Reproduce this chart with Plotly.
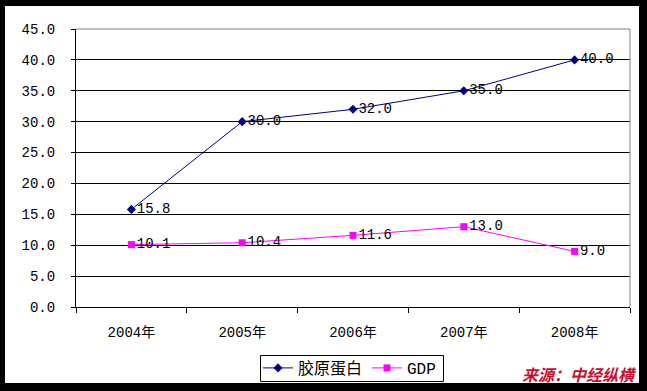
import plotly.graph_objects as go

years = ["2004年", "2005年", "2006年", "2007年", "2008年"]
collagen = [15.8, 30.0, 32.0, 35.0, 40.0]
gdp = [10.1, 10.4, 11.6, 13.0, 9.0]
ytick_vals = [0, 5, 10, 15, 20, 25, 30, 35, 40, 45]
ytick_text = ["%.1f" % v for v in ytick_vals]

FONT = "Liberation Mono, Noto Sans CJK SC"

fig = go.Figure()
fig.add_trace(go.Scatter(
    x=years, y=collagen, name="胶原蛋白", mode="lines+markers+text",
    line=dict(color="#000080", width=1),
    marker=dict(symbol="diamond", size=7, color="#000080"),
    text=["%.1f" % v for v in collagen], textposition="middle right",
    textfont=dict(family=FONT, size=14, color="black"),
))
fig.add_trace(go.Scatter(
    x=years, y=gdp, name="GDP", mode="lines+markers+text",
    line=dict(color="#FF00FF", width=1),
    marker=dict(symbol="square", size=7, color="#FF00FF"),
    text=["%.1f" % v for v in gdp], textposition="middle right",
    textfont=dict(family=FONT, size=14, color="black"),
))

L, R, T, B = 76, 17, 29, 84
W, H = 647, 391
pw, ph = W - L - R, H - T - B
def px(x):
    return (x - L) / pw
def py(y):
    return (H - B - y) / ph

fig.update_layout(
    width=W, height=H,
    margin=dict(l=L, r=R, t=T, b=B, autoexpand=False),
    paper_bgcolor="black", plot_bgcolor="white",
    showlegend=True,
    legend=dict(orientation="h", x=px(258), xanchor="left", y=py(368), yanchor="middle",
                borderwidth=0, bgcolor="rgba(0,0,0,0)",
                font=dict(family=FONT, size=16, color="black"),
                itemwidth=30, tracegroupgap=0),
    font=dict(family=FONT, color="black"),
    shapes=[
        dict(type="rect", xref="paper", yref="paper", x0=px(5), x1=px(639), y0=py(383), y1=py(6),
             fillcolor="white", line=dict(width=0), layer="below"),
        dict(type="line", xref="paper", yref="paper", x0=0, x1=1, y0=1, y1=1,
             line=dict(color="#808080", width=1), layer="above"),
        dict(type="line", xref="paper", yref="paper", x0=1, x1=1, y0=0, y1=1,
             line=dict(color="#808080", width=1), layer="above"),
        dict(type="rect", xref="paper", yref="paper", x0=px(260.5), x1=px(443.5), y0=py(381.5), y1=py(355.5),
             fillcolor="rgba(0,0,0,0)", line=dict(color="black", width=1), layer="above"),
    ],
    annotations=[
        dict(text="<b><i>来源：中经纵横</i></b>", xref="paper", yref="paper",
             x=px(639), xanchor="right", y=py(388), yanchor="bottom", showarrow=False,
             font=dict(family="Noto Sans CJK SC", size=16, color="#C8102E")),
    ],
)
fig.update_xaxes(
    type="category", range=[-0.5, 4.5], showgrid=False, automargin=False,
    showline=True, linecolor="black", linewidth=1,
    ticks="outside", tickson="boundaries", ticklen=5, tickcolor="black",
    ticklabelstandoff=12,
    tickfont=dict(family=FONT, size=14, color="black"),
)
fig.update_yaxes(
    range=[0, 45], tickvals=ytick_vals, ticktext=ytick_text, automargin=False,
    showgrid=True, gridcolor="black", gridwidth=1,
    showline=True, linecolor="black", linewidth=1,
    ticks="outside", ticklen=4, tickcolor="black", ticklabelstandoff=13,
    tickfont=dict(family=FONT, size=14, color="black"),
    zeroline=False,
)

fig.write_html("out.html", config={"displayModeBar": False},
               post_script="document.body.style.margin='0';document.body.style.background='black';")
